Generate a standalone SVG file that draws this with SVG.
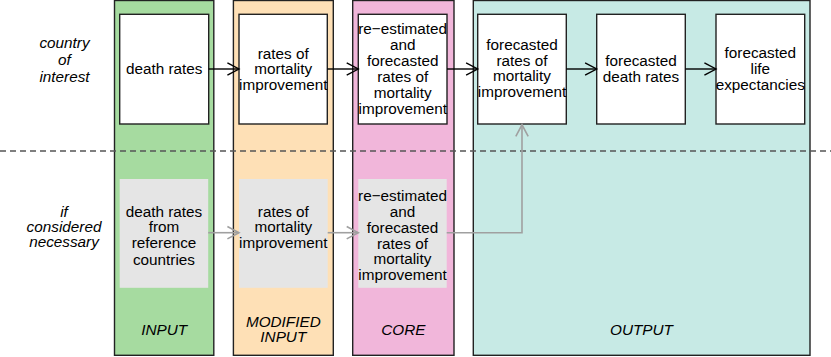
<svg xmlns="http://www.w3.org/2000/svg" width="831" height="357" viewBox="0 0 831 357">
<style>
text{font-family:"Liberation Sans",Arial,sans-serif;font-size:15.3px;fill:#000;text-anchor:middle}
.lab{font-style:italic}
.col{stroke:#222;stroke-width:1.4}
.box{fill:#fff;stroke:#222;stroke-width:1.4}
.gbox{fill:#e5e5e5;stroke:none}
.arr{fill:none;stroke:#000;stroke-width:1.4}
.garr{fill:none;stroke:#a0a0a0;stroke-width:1.6}
</style>
<defs>
<marker id="ah" markerUnits="userSpaceOnUse" markerWidth="16" markerHeight="16" viewBox="-13 -8 14 16" refX="0" refY="0" orient="auto" overflow="visible">
<path d="M-11.6,-6.2 L0,0 L-11.6,6.2" fill="none" stroke="#000" stroke-width="1.4"/>
</marker>
<marker id="gah" markerUnits="userSpaceOnUse" markerWidth="16" markerHeight="16" viewBox="-13 -8 14 16" refX="0" refY="0" orient="auto" overflow="visible">
<path d="M-11.6,-6.2 L0,0 L-11.6,6.2" fill="none" stroke="#a0a0a0" stroke-width="1.6"/>
</marker>
</defs>
<g id="columns">
<g id="col-input"><rect class="col" x="114.5" y="0.5" width="99.3" height="354.8" fill="#a6dba0"/><text class="lab" x="164.2" y="335">INPUT</text></g>
<g id="col-modified"><rect class="col" x="233.4" y="0.5" width="99.9" height="354.8" fill="#fee0b6"/><text class="lab" x="283.3" y="326.7">MODIFIED</text><text class="lab" x="283.3" y="341.7">INPUT</text></g>
<g id="col-core"><rect class="col" x="352.7" y="0.5" width="101.3" height="354.8" fill="#f1b6da"/><text class="lab" x="403.3" y="335">CORE</text></g>
<g id="col-output"><rect class="col" x="473.3" y="0.5" width="336.7" height="354.8" fill="#c7eae5"/><text class="lab" x="641.5" y="335">OUTPUT</text></g>
</g>
<line x1="0" y1="151" x2="831" y2="151" stroke="#555" stroke-width="1.3" stroke-dasharray="6,4"/>
<g id="row-labels">
<text class="lab" x="64.5" y="48.3">country</text>
<text class="lab" x="64.5" y="65.3">of</text>
<text class="lab" x="64.5" y="82.3">interest</text>
<text class="lab" x="64" y="216.5">if</text>
<text class="lab" x="64" y="232">considered</text>
<text class="lab" x="64" y="247">necessary</text>
</g>
<g id="n-death-rates"><rect class="box" x="119.7" y="14.3" width="89" height="109.7"/><text x="164.2" y="74.3">death rates</text></g>
<g id="n-rates"><rect class="box" x="239" y="14.3" width="88.3" height="109.7"/><text x="283.2" y="58.5">rates of</text><text x="283.2" y="74">mortality</text><text x="283.2" y="89.5">improvement</text></g>
<g id="n-reest"><rect class="box" x="358.3" y="14.3" width="88.7" height="109.7"/><text x="402.7" y="33.5">re−estimated</text><text x="402.7" y="49.5">and</text><text x="402.7" y="65.5">forecasted</text><text x="402.7" y="81.5">rates of</text><text x="402.7" y="97.5">mortality</text><text x="402.7" y="113.5">improvement</text></g>
<g id="n-fc-rates"><rect class="box" x="477.7" y="14.3" width="88.6" height="109.7"/><text x="522" y="49.5">forecasted</text><text x="522" y="65.5">rates of</text><text x="522" y="81.3">mortality</text><text x="522" y="97">improvement</text></g>
<g id="n-fc-death"><rect class="box" x="596.7" y="14.3" width="88.6" height="109.7"/><text x="641" y="66">forecasted</text><text x="641" y="82">death rates</text></g>
<g id="n-fc-life"><rect class="box" x="716" y="14.3" width="88.7" height="109.7"/><text x="760.3" y="58.3">forecasted</text><text x="760.3" y="74">life</text><text x="760.3" y="89.5">expectancies</text></g>
<g id="n-ref-death"><rect class="gbox" x="119.7" y="179" width="88.5" height="108.8"/><text x="164" y="216.6">death rates</text><text x="164" y="232.4">from</text><text x="164" y="248.4">reference</text><text x="164" y="264.6">countries</text></g>
<g id="n-ref-rates"><rect class="gbox" x="239" y="179" width="88.7" height="108.8"/><text x="283.3" y="216.6">rates of</text><text x="283.3" y="231.8">mortality</text><text x="283.3" y="247.7">improvement</text></g>
<g id="n-ref-reest"><rect class="gbox" x="358.3" y="179" width="88.4" height="108.8"/><text x="402.5" y="200.5">re−estimated</text><text x="402.5" y="216.6">and</text><text x="402.5" y="232.7">forecasted</text><text x="402.5" y="248.6">rates of</text><text x="402.5" y="264.4">mortality</text><text x="402.5" y="280">improvement</text></g>
<g id="connectors">
<line class="arr" x1="208.7" y1="69" x2="239" y2="69" marker-end="url(#ah)"/>
<line class="arr" x1="327.3" y1="69" x2="358.3" y2="69" marker-end="url(#ah)"/>
<line class="arr" x1="447" y1="69" x2="477.7" y2="69" marker-end="url(#ah)"/>
<line class="arr" x1="566.3" y1="69" x2="596.7" y2="69" marker-end="url(#ah)"/>
<line class="arr" x1="685.3" y1="69" x2="716" y2="69" marker-end="url(#ah)"/>
<line class="garr" x1="208.2" y1="232.7" x2="239" y2="232.7" marker-end="url(#gah)"/>
<line class="garr" x1="327.7" y1="232.7" x2="358.3" y2="232.7" marker-end="url(#gah)"/>
<polyline class="garr" points="446.7,232.7 522,232.7 522,124.8" marker-end="url(#gah)"/>
</g>
</svg>
